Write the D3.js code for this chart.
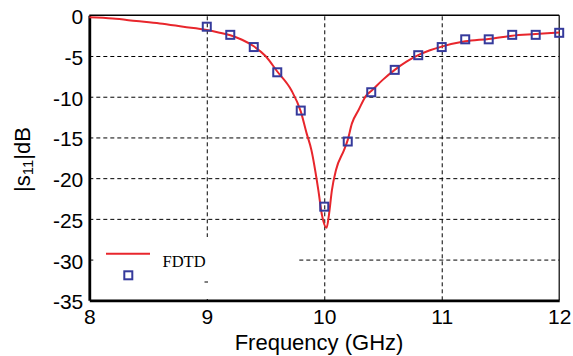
<!DOCTYPE html>
<html>
<head>
<meta charset="utf-8">
<script src="https://cdn.jsdelivr.net/npm/d3@7"></script>
<style>
  html, body { margin: 0; padding: 0; background: #fff; }
  svg { display: block; }
  text { font-family: Arial, "Liberation Sans", sans-serif; }
</style>
</head>
<body>
<svg id="chart" width="573" height="356"></svg>
<script>
// FDTD simulated curve (frequency in GHz, |S11| in dB)
const curveFreq = [8.0, 8.2, 8.4, 8.6, 8.8, 9.0, 9.1, 9.2, 9.3, 9.4, 9.5, 9.6, 9.72, 9.8, 9.85, 9.89, 9.95, 9.98, 10.02, 10.04, 10.065, 10.1, 10.17, 10.2, 10.235, 10.29, 10.36, 10.4, 10.5, 10.6, 10.7, 10.8, 10.9, 11.0, 11.2, 11.4, 11.6, 11.8, 12.0];
const curveDB   = [-0.25, -0.4, -0.7, -1.0, -1.4, -1.8, -2.1, -2.45, -3.0, -3.8, -5.0, -6.9, -9.2, -11.8, -14.5, -16.5, -21.5, -24.5, -26.1, -24.5, -21.5, -19.0, -16.5, -15.3, -13.3, -11.7, -9.8, -9.3, -7.9, -6.7, -5.7, -4.9, -4.3, -3.85, -3.2, -2.9, -2.5, -2.3, -2.1];

// Square markers (second data set)
const markerFreq = [9.0, 9.2, 9.4, 9.6, 9.8, 10.0, 10.2, 10.4, 10.6, 10.8, 11.0, 11.2, 11.4, 11.6, 11.8, 12.0];
const markerDB   = [-1.4, -2.4, -3.9, -7.0, -11.7, -23.5, -15.5, -9.45, -6.7, -4.9, -3.9, -2.95, -2.95, -2.4, -2.4, -2.15];

// Axis ticks
const xTicks = [8, 9, 10, 11, 12];
const yTicks = [0, -5, -10, -15, -20, -25, -30, -35];
const xGrid = [9, 10, 11];
const yGrid = [-5, -10, -15, -20, -25, -30];

const legendLabel = "FDTD";
const xTitle = "Frequency (GHz)";

const RED = "#e8262c";
const BLUE = "#353a9c";

const svg = d3.select("#chart");
const L = 89.3, R = 559.2, T = 15.3, B = 300.3;

const x = d3.scaleLinear().domain([8, 12]).range([L, R]);
const y = d3.scaleLinear().domain([-35, 0]).range([B, T]);

// grid
const grid = svg.append("g");
grid.append("g")
  .attr("transform", `translate(0,${B})`)
  .call(d3.axisBottom(x).tickValues(xGrid).tickSize(-(B - T)).tickFormat(""))
  .call(g => g.select(".domain").remove())
  .call(g => g.selectAll("line").attr("stroke", "#000").attr("stroke-width", 1).attr("stroke-dasharray", "4,3"));
grid.append("g")
  .attr("transform", `translate(${L},0)`)
  .call(d3.axisLeft(y).tickValues(yGrid).tickSize(-(R - L)).tickFormat(""))
  .call(g => g.select(".domain").remove())
  .call(g => g.selectAll("line").attr("stroke", "#000").attr("stroke-width", 1).attr("stroke-dasharray", "4,3"));

// legend background (hides grid)
svg.append("rect").attr("x", 95).attr("y", 237).attr("width", 204).attr("height", 62).attr("fill", "#fff");
svg.append("line").attr("x1", 204.5).attr("x2", 208).attr("y1", 282).attr("y2", 282).attr("stroke", "#000").attr("stroke-width", 1);

// frame
svg.append("line").attr("x1", L).attr("x2", R).attr("y1", T).attr("y2", T).attr("stroke", "#000").attr("stroke-width", 1.5);
svg.append("line").attr("x1", R).attr("x2", R).attr("y1", T).attr("y2", B).attr("stroke", "#000").attr("stroke-width", 1.2);

// x axis
const xAxis = svg.append("g")
  .attr("transform", `translate(0,${B})`)
  .call(d3.axisBottom(x).tickValues(xTicks).tickSize(0).tickPadding(0).tickFormat(d => String(d)));
xAxis.select(".domain").attr("stroke", "#000").attr("stroke-width", 2.8);
xAxis.selectAll("text").attr("font-size", "21px").attr("fill", "#000").attr("dy", null).attr("y", 24);

// y axis
const yAxis = svg.append("g")
  .attr("transform", `translate(${L},0)`)
  .call(d3.axisLeft(y).tickValues(yTicks).tickSize(0).tickPadding(0).tickFormat(d => String(d)));
yAxis.select(".domain").attr("stroke", "#000").attr("stroke-width", 2.8);
yAxis.selectAll("text").attr("font-size", "21px").attr("fill", "#000").attr("dy", null).attr("x", -6).attr("y", 8.5);

// curve
const line = d3.line().x((d, i) => x(curveFreq[i])).y(d => y(d)).curve(d3.curveMonotoneX);
svg.append("path").datum(curveDB).attr("d", line).attr("fill", "none").attr("stroke", RED).attr("stroke-width", 2);

// markers
const S = 8;
svg.append("g").selectAll("rect").data(markerDB).join("rect")
  .attr("x", (d, i) => x(markerFreq[i]) - S / 2)
  .attr("y", d => y(d) - S / 2)
  .attr("width", S).attr("height", S)
  .attr("fill", "none").attr("stroke", BLUE).attr("stroke-width", 2);

// legend
svg.append("line").attr("x1", 106).attr("x2", 150).attr("y1", 253.7).attr("y2", 253.7).attr("stroke", RED).attr("stroke-width", 2);
svg.append("text").attr("x", 162.5).attr("y", 267.3).attr("font-size", "16.5px")
  .style("font-family", "'Liberation Serif', 'Times New Roman', serif").attr("fill", "#000").text(legendLabel);
svg.append("rect").attr("x", 128.3 - S / 2).attr("y", 275.3 - S / 2).attr("width", S).attr("height", S)
  .attr("fill", "none").attr("stroke", BLUE).attr("stroke-width", 2);

// axis titles
svg.append("text").attr("x", 319).attr("y", 350).attr("text-anchor", "middle").attr("font-size", "22px").attr("fill", "#000").text(xTitle);

const yt = svg.append("text").attr("transform", "translate(30,159.5) rotate(-90)").attr("text-anchor", "middle").attr("font-size", "22px").attr("fill", "#000");
yt.append("tspan").text("|s");
yt.append("tspan").attr("font-size", "15px").attr("dy", 3).text("11");
yt.append("tspan").attr("dy", -3).text("|dB");
</script>
</body>
</html>
